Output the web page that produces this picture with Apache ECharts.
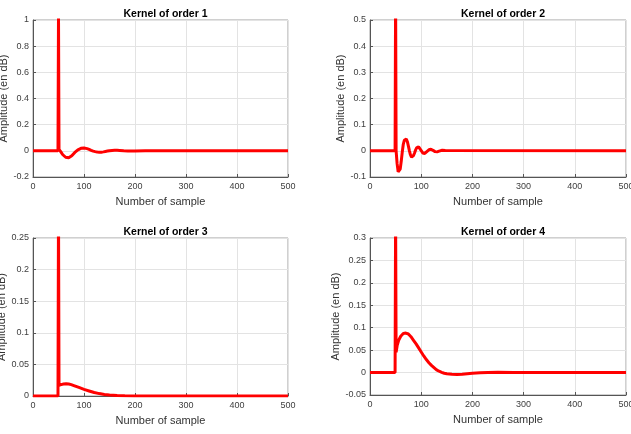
<!DOCTYPE html>
<html>
<head>
<meta charset="utf-8">
<script src="https://cdn.jsdelivr.net/npm/echarts@6/dist/echarts.min.js"></script>
<style>
  html, body { margin: 0; padding: 0; background: #fff; }
  #chart { width: 631px; height: 434px; }
</style>
</head>
<body>
<div id="chart"></div>
<script>
// ---- data (sample index -> amplitude) ----
const titles = ["Kernel of order 1", "Kernel of order 2", "Kernel of order 3", "Kernel of order 4"];

const order1X = [0, 49, 50, 51, 53, 55, 58, 61, 64, 67, 70, 73, 76, 79, 82, 85, 88, 91, 94, 97, 100, 103, 106, 110, 114, 118, 122, 126, 130, 134, 138, 142, 146, 150, 155, 160, 165, 170, 178, 186, 200, 220, 500];
const order1Y = [0, 0, 1.05, 0.012, 0.005, -0.01, -0.028, -0.04, -0.049, -0.053, -0.053, -0.048, -0.038, -0.025, -0.012, -0.001, 0.008, 0.015, 0.019, 0.021, 0.021, 0.02, 0.017, 0.011, 0.004, -0.002, -0.006, -0.009, -0.01, -0.01, -0.008, -0.005, -0.002, 0.001, 0.003, 0.004, 0.004, 0.003, 0.001, -0.0005, -0.0005, 0, 0];

const order2X = [0, 49, 50, 51, 53, 55, 57, 59, 61, 63, 65, 67, 69, 71, 73, 75, 77, 79, 81, 83, 85, 87, 89, 91, 93, 95, 97, 99, 101, 103, 105, 107, 109, 111, 113, 115, 117, 119, 121, 123, 125, 127, 129, 131, 133, 135, 138, 141, 144, 147, 150, 500];
const order2Y = [0, 0, 0.6, 0.0, -0.05, -0.08, -0.085, -0.07, -0.04, -0.005, 0.025, 0.04, 0.046, 0.045, 0.035, 0.018, 0.0, -0.015, -0.024, -0.025, -0.018, -0.008, 0.003, 0.011, 0.015, 0.015, 0.011, 0.004, -0.003, -0.008, -0.01, -0.01, -0.007, -0.003, 0.001, 0.004, 0.006, 0.006, 0.005, 0.002, -0.001, -0.003, -0.004, -0.004, -0.003, -0.001, 0.001, 0.002, 0.002, 0.001, 0, 0];

const order3X = [0, 49, 50, 51, 52, 55, 60, 65, 70, 75, 80, 90, 100, 110, 120, 130, 140, 150, 165, 180, 200, 500];
const order3Y = [0, 0, 0.3, 0.017, 0.017, 0.018, 0.019, 0.0195, 0.019, 0.018, 0.0165, 0.0135, 0.0105, 0.008, 0.0055, 0.0038, 0.0025, 0.0015, 0.0007, 0.0003, 0.0001, 0];

const order4X = [0, 49, 50, 51, 53, 56, 60, 65, 70, 75, 80, 85, 90, 95, 100, 105, 110, 115, 120, 125, 130, 135, 140, 145, 150, 160, 170, 180, 190, 200, 215, 230, 250, 280, 320, 500];
const order4Y = [0, 0, 0.35, 0.045, 0.06, 0.072, 0.081, 0.087, 0.088, 0.086, 0.08, 0.072, 0.064, 0.055, 0.046, 0.037, 0.029, 0.022, 0.016, 0.011, 0.006, 0.003, 0.0005, -0.0015, -0.0028, -0.004, -0.0042, -0.0035, -0.0025, -0.0015, -0.0005, 0.0002, 0.0005, 0.0003, 0, 0];

const yMins = [-0.2, -0.1, 0, -0.05];
const yMaxs = [1, 0.5, 0.25, 0.3];
const yIntervals = [0.2, 0.1, 0.05, 0.05];

const seriesX = [order1X, order2X, order3X, order4X];
const seriesY = [order1Y, order2Y, order3Y, order4Y];

// ---- layout ----
const grids = [
    { left: 33, top: 20, width: 255, height: 157 },
    { left: 370, top: 20, width: 256, height: 157 },
    { left: 33, top: 238, width: 255, height: 158 },
    { left: 370, top: 238, width: 256, height: 157 },
];
const yNameGaps = [22, 21, 24, 24];

const labelColor = "#404040";
const fmt = v => String(+v.toFixed(4));

const chart = echarts.init(document.getElementById("chart"), null, { renderer: "canvas" });

chart.setOption({
    animation: false,
    backgroundColor: "#fff",
    title: grids.map((g, i) => ({
        text: titles[i],
        left: g.left + g.width / 2,
        top: g.top - 16,
        textAlign: "center",
        textStyle: { fontSize: 10.5, fontWeight: "bold", color: "#000", fontFamily: "Liberation Sans" },
    })),
    grid: grids.map(g => ({
        ...g,
        show: true,
        borderColor: "#a0a0a0",
        borderWidth: 1,
        containLabel: false,
        outerBoundsMode: "none",
    })),
    xAxis: grids.map((g, i) => ({
        type: "value",
        gridIndex: i,
        min: 0, max: 500, interval: 100,
        name: "Number of sample",
        nameLocation: "middle",
        nameGap: 19,
        nameTextStyle: { fontSize: 11, color: "#333", fontFamily: "Liberation Sans" },
        axisLine: { show: true, onZero: false, lineStyle: { color: "#555", width: 1 } },
        axisTick: { show: true, inside: true, length: 3, lineStyle: { color: "#555" } },
        axisLabel: { fontSize: 9, color: labelColor, margin: 5, fontFamily: "Liberation Sans", formatter: fmt },
        splitLine: { show: true, lineStyle: { color: "#e3e3e3", width: 1 } },
    })),
    yAxis: grids.map((g, i) => ({
        type: "value",
        gridIndex: i,
        min: yMins[i], max: yMaxs[i], interval: yIntervals[i],
        name: "Amplitude (en dB)",
        nameLocation: "middle",
        nameGap: yNameGaps[i],
        nameTextStyle: { fontSize: 11, color: "#333", fontFamily: "Liberation Sans" },
        axisLine: { show: true, onZero: false, lineStyle: { color: "#555", width: 1 } },
        axisTick: { show: true, inside: true, length: 3, lineStyle: { color: "#555" } },
        axisLabel: { fontSize: 9, color: labelColor, margin: 4, fontFamily: "Liberation Sans", formatter: fmt },
        splitLine: { show: true, lineStyle: { color: "#e3e3e3", width: 1 } },
    })),
    series: seriesX.map((xs, i) => ({
        type: "line",
        xAxisIndex: i,
        yAxisIndex: i,
        data: xs.map((x, k) => [x, seriesY[i][k]]),
        showSymbol: false,
        clip: true,
        lineStyle: { color: "#ff0000", width: 3 },
        itemStyle: { color: "#ff0000" },
    })),
});
</script>
</body>
</html>
